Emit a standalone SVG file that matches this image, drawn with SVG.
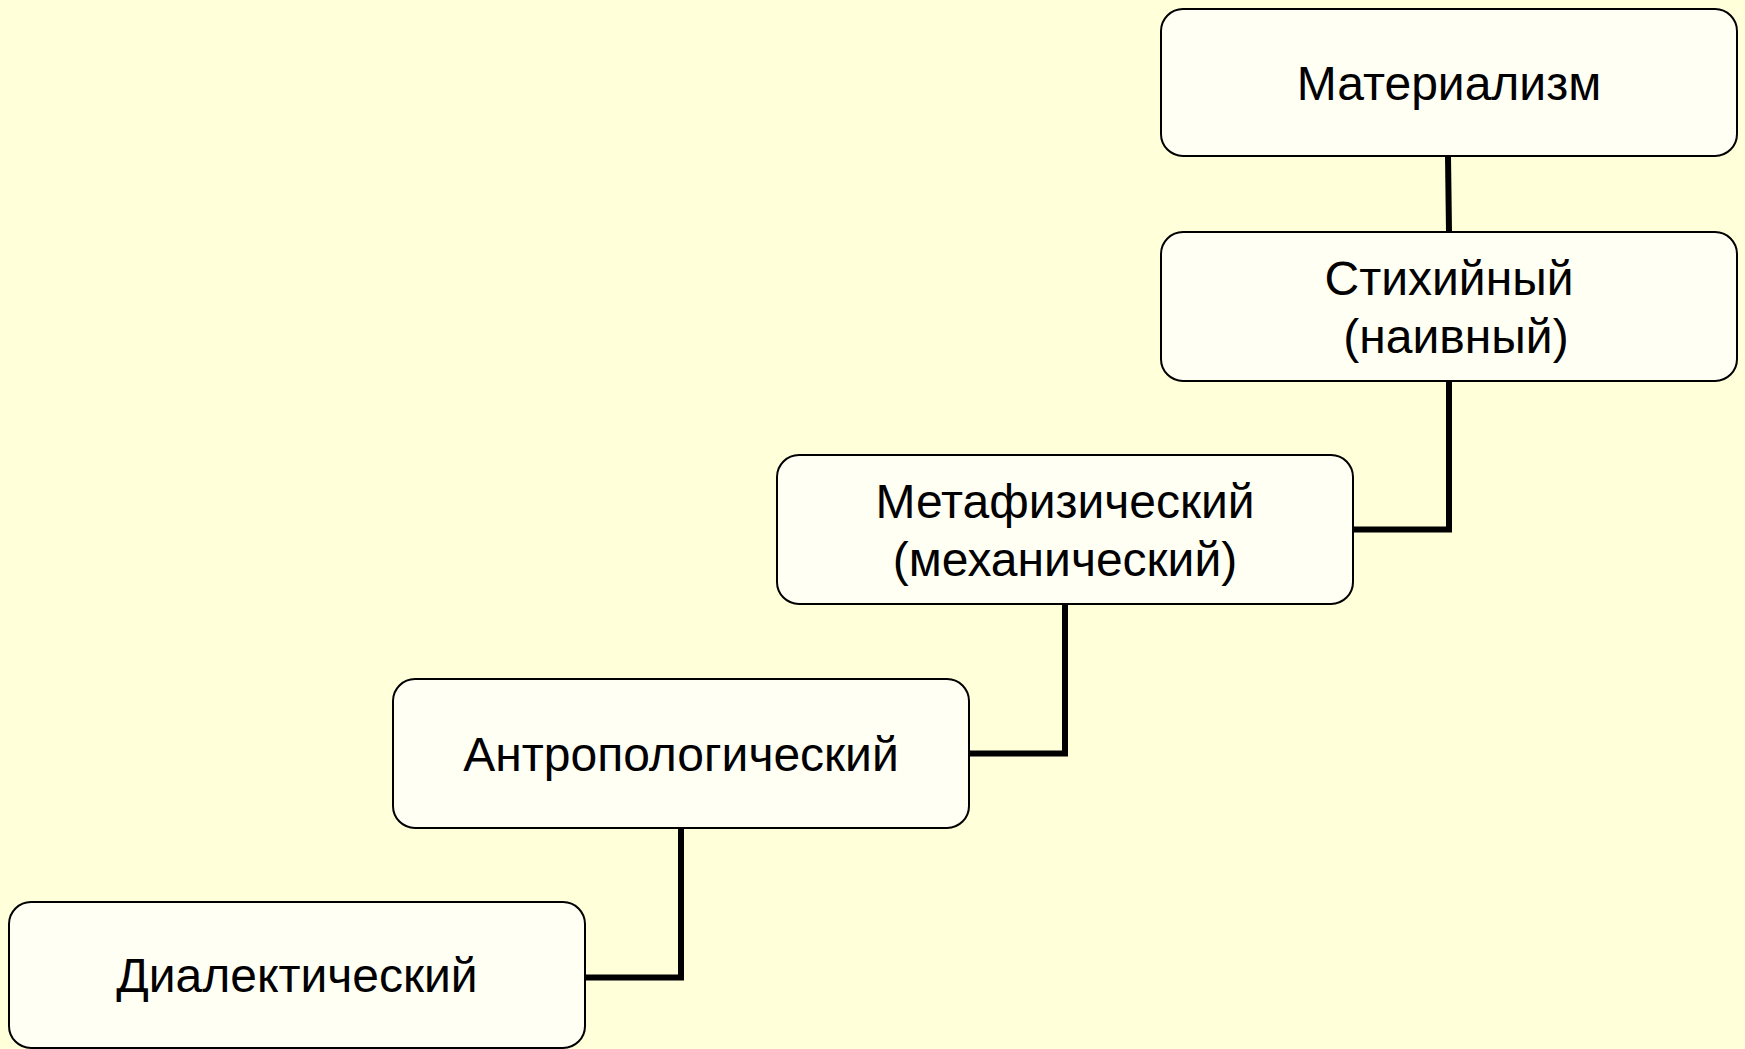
<svg xmlns="http://www.w3.org/2000/svg" width="1745" height="1049" viewBox="0 0 1745 1049">
<style>
.box{fill:#FFFFF4;stroke:#000;stroke-width:2}
.lbl{font-family:"Liberation Sans",Arial,sans-serif;font-size:48px;fill:#000;text-anchor:middle}
.conn{fill:none;stroke:#000;stroke-width:6;stroke-linejoin:miter}
</style>
<rect x="0" y="0" width="1745" height="1049" fill="#FFFFDA"/>
<g id="connectors">
<line class="conn" x1="1448" y1="156" x2="1449" y2="232"/>
<polyline class="conn" points="1449,381 1449,529.5 1353,529.5"/>
<polyline class="conn" points="1065,604 1065,753.5 969,753.5"/>
<polyline class="conn" points="681,828 681,977.5 585,977.5"/>
</g>
<g id="materialism">
<rect class="box" x="1161" y="9" width="576" height="147" rx="22"/>
<text class="lbl" x="1449" y="99.5">Материализм</text>
</g>
<g id="stikhiyny">
<rect class="box" x="1161" y="232" width="576" height="149" rx="22"/>
<text class="lbl" x="1449" y="295">Стихийный</text>
<text class="lbl" x="1456" y="353">(наивный)</text>
</g>
<g id="metafizichesky">
<rect class="box" x="777" y="455" width="576" height="149" rx="22"/>
<text class="lbl" x="1065" y="518">Метафизический</text>
<text class="lbl" x="1065" y="576">(механический)</text>
</g>
<g id="antropologichesky">
<rect class="box" x="393" y="679" width="576" height="149" rx="22"/>
<text class="lbl" x="681" y="770.5">Антропологический</text>
</g>
<g id="dialektichesky">
<rect class="box" x="9" y="902" width="576" height="146" rx="22"/>
<text class="lbl" x="297" y="992">Диалектический</text>
</g>
</svg>
